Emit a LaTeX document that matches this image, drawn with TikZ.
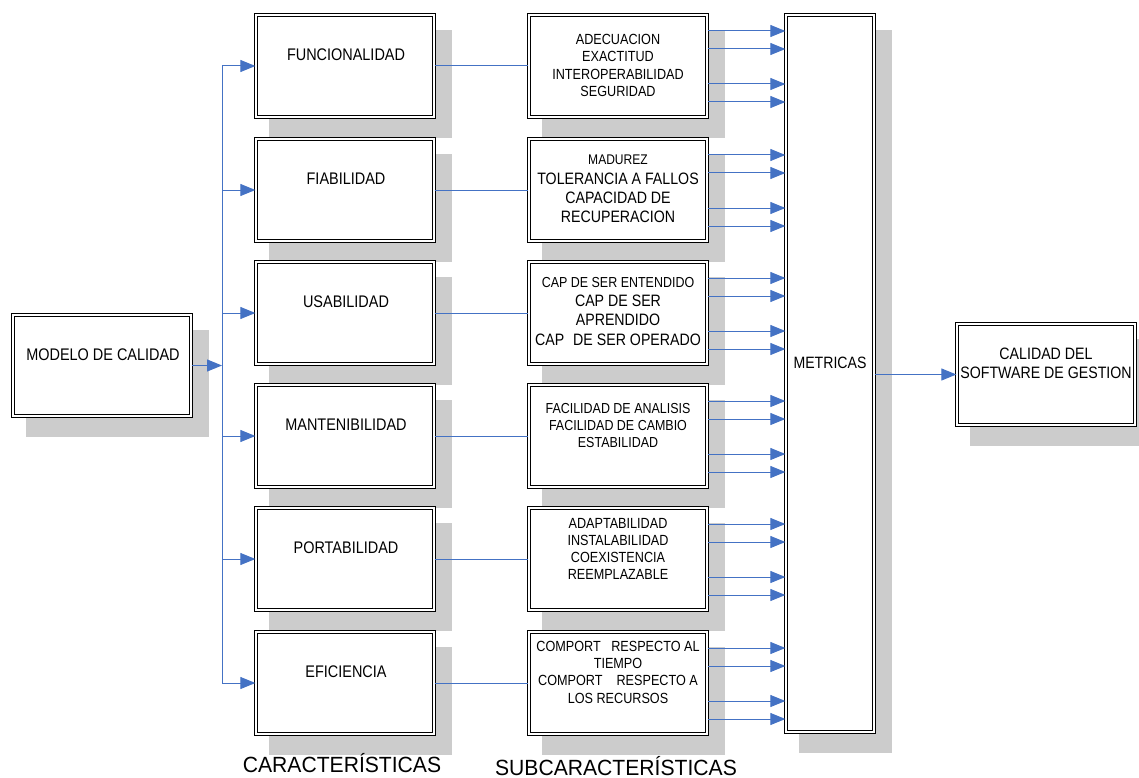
\documentclass[tikz,border=0pt]{standalone}
\usepackage{fontspec}
\setmainfont{Liberation Sans}[FakeStretch=0.86]
\newfontfamily\headfont{Liberation Sans}[FakeStretch=0.96]
\usetikzlibrary{arrows.meta,calc,backgrounds}
\definecolor{linkblue}{RGB}{68,114,196}
\definecolor{shadowgray}{RGB}{204,204,204}
\newcommand\fsz[2]{\fontsize{#1pt}{#2pt}\selectfont}

\begin{document}
\begin{tikzpicture}[x=1pt,y=-1pt,
  frame/.style={draw=black,line width=1.3pt,double=white,double distance=1.7pt,
    fill=white,inner sep=0pt,minimum width=178pt,minimum height=102pt},
  boxshadow/.style={fill=shadowgray},
  wire/.style={draw=linkblue,line width=1pt},
  arr/.style={wire,-{Triangle[length=15pt,width=12pt]}},
  headtext/.style={inner sep=0pt,font=\fsz{16.8}{20}},
  subtext/.style={inner sep=0pt,align=center,font=\fsz{14.7}{17.3}},
  bigtext/.style={inner sep=0pt,align=center,font=\fsz{16.5}{19.3}},
  caption/.style={inner sep=0pt,anchor=base,font=\headfont\fsz{22}{26}}]
\useasboundingbox (0,0) rectangle (1139,778);

% boxes
\node[frame,minimum height=101pt] (mod) at (102,365.5) {};
\foreach \i/\y in {1/66,2/190,3/313,4/436,5/559,6/683}{
  \node[frame] (c\i) at (345,\y) {};
  \node[frame] (s\i) at (618,\y) {};
}
\node[frame,minimum width=88pt,minimum height=717pt] (met) at (830,373.5) {};
\node[frame,minimum height=101pt] (cal) at (1046,374.5) {};

% drop shadows
\begin{scope}[on background layer]
  \foreach \n in {mod,c1,c2,c3,c4,c5,c6,s1,s2,s3,s4,s5,s6,met,cal}
    \path[boxshadow] ($(\n.north west)+(13.3,15.8)$) rectangle ($(\n.south east)+(17.7,20.2)$);
\end{scope}

% box texts
\node[headtext] (tmod) at ($(mod.center)+(1,-11)$) {MODELO DE CALIDAD};
\foreach \i/\t in {1/FUNCIONALIDAD,2/FIABILIDAD,3/USABILIDAD,4/MANTENIBILIDAD,5/PORTABILIDAD,6/EFICIENCIA}
  \node[headtext] (tc\i) at ($(c\i.center)+(1,-11)$) {\t};

\node[subtext] (ts1) at ($(s1.center)+(0,-0.5)$)
  {ADECUACION\\EXACTITUD\\INTEROPERABILIDAD\\SEGURIDAD};
\node[bigtext] (ts2) at ($(s2.center)+(0,-1)$)
  {{\fsz{14}{19.3}MADUREZ}\\TOLERANCIA A FALLOS\\CAPACIDAD DE\\RECUPERACION};
\node[bigtext] (ts3) at ($(s3.center)+(0,-1.7)$)
  {{\fsz{14.5}{19.3}CAP DE SER ENTENDIDO}\\CAP DE SER\\APRENDIDO\\CAP\hspace{9pt}DE SER OPERADO};
\node[subtext,font=\fsz{14.5}{16.7}] (ts4) at ($(s4.center)+(0,-10.5)$)
  {FACILIDAD DE ANALISIS\\FACILIDAD DE CAMBIO\\ESTABILIDAD};
\node[subtext,font=\fsz{14.7}{17}] (ts5) at ($(s5.center)+(0,-10.5)$)
  {ADAPTABILIDAD\\INSTALABILIDAD\\COEXISTENCIA\\REEMPLAZABLE};
\node[subtext] (ts6) at ($(s6.center)+(0,-11)$)
  {COMPORT\ \ \ RESPECTO AL\\TIEMPO\\COMPORT\ \ \ \ RESPECTO A\\LOS RECURSOS};
\node[headtext,font=\fsz{16.4}{20}] (tmet) at ($(met.center)+(0,-10.5)$) {METRICAS};
\node[bigtext,font=\fsz{16.5}{19}] (tcal) at ($(cal.center)+(0,-11)$)
  {CALIDAD DEL\\SOFTWARE DE GESTION};

% captions
\node[caption] (cap1) at (342,772) {CARACTERÍSTICAS};
\node[caption] (cap2) at (616,775.5) {SUBCARACTERÍSTICAS};

% connectors
\coordinate (tk) at (222,0);
\draw[arr] (mod.east) -- (mod.east -| tk);
\draw[wire] (c1.west -| tk) -- (c6.west -| tk);
\foreach \i in {1,...,6}{
  \draw[arr] (c\i.west -| tk) -- (c\i.west);
  \draw[wire] (c\i.east) -- (s\i.west);
  \foreach \d in {-35,-17,18,36}
    \draw[arr] ($(s\i.east)+(0,\d)$) coordinate (p) -- (p -| met.west);
}
\draw[arr] (met.east |- cal.west) -- (cal.west);
\end{tikzpicture}
\end{document}
